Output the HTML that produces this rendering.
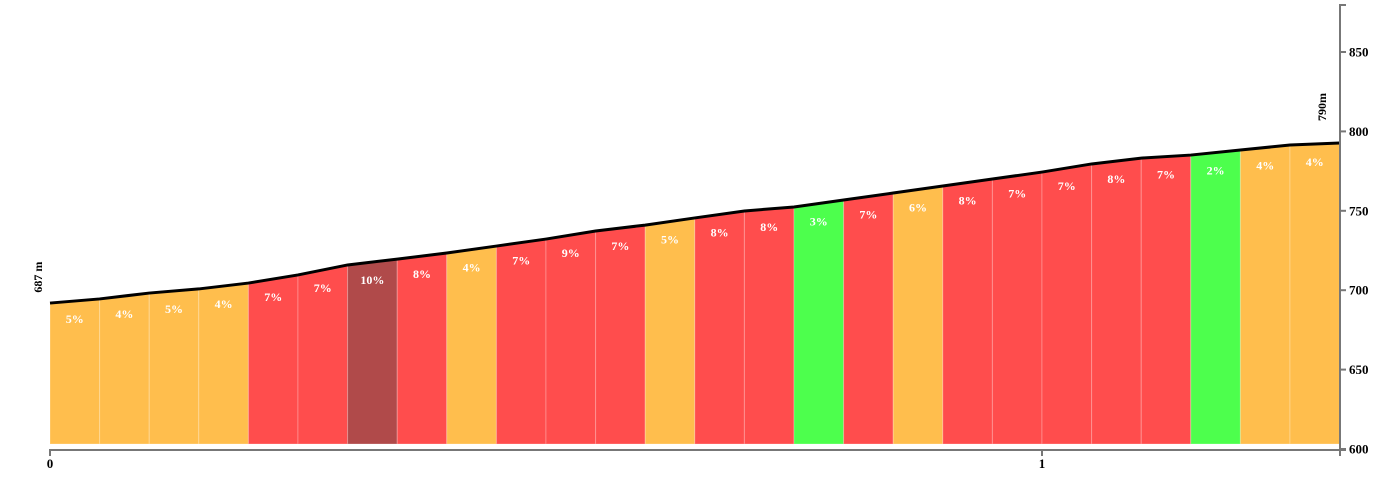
<!DOCTYPE html>
<html><head><meta charset="utf-8"><style>
body{margin:0;background:#fff}
svg{display:block;font-family:"Liberation Serif",serif;font-weight:bold}
</style></head><body>
<svg id="chart" width="1400" height="490" viewBox="0 0 1400 490"></svg>
<script>
const elevations=[691.9,694.5,698.2,700.8,704.5,709.6,715.9,719.6,723.4,727.8,732.2,737.3,741,745.5,749.9,752.4,756.8,761.2,765.6,770,774.4,779.5,783.2,785.1,788.3,791.4,792.7];
const grades=[5,4,5,4,7,7,10,8,4,7,9,7,5,8,8,3,7,6,8,7,7,8,7,2,4,4];
const yTicks=[600,650,700,750,800,850];
const xTicks=[0,1];
const segLen=0.05;
const startLabel="687 m", endLabel="790m";
const NS="http://www.w3.org/2000/svg";
const svg=document.getElementById('chart');
const xS=k=>50+k*992;
const yS=m=>449-(m-600)*1.588;
function mk(t,a,p){const e=document.createElementNS(NS,t);for(const k in a)e.setAttribute(k,a[k]);(p||svg).appendChild(e);return e;}
function col(g){if(g>=10)return'#b04a4a';if(g>=7)return'#ff4d4d';if(g>=4)return'#ffbe4d';return'#4dff4d';}
const gSeg=mk('g',{});


grades.forEach((g,i)=>{
 const x0=xS(i*segLen),x1=xS((i+1)*segLen),y0=yS(elevations[i]),y1=yS(elevations[i+1]);
 const p=mk('polygon',{points:`${x0},${y0} ${x1},${y1} ${x1},444 ${x0},444`,fill:col(g),stroke:'rgba(255,255,255,0.25)','stroke-width':1},gSeg);
 
 
 const t=mk('text',{x:(x0+x1)/2,y:(y0+y1)/2+22,'text-anchor':'middle',fill:'#fff','font-size':12},gSeg);
 t.textContent=g+'%';
 
 
});
const pts=elevations.map((e,i)=>xS(i*segLen)+','+yS(e)).join(' ');
const line=mk('polyline',{points:pts,fill:'none',stroke:'#000','stroke-width':3});


// x axis
const xa=mk('g',{});


mk('path',{d:'M50,456V450H1340V456',fill:'none',stroke:'#777','stroke-width':2},xa);
xTicks.forEach(k=>{mk('line',{x1:xS(k),x2:xS(k),y1:450,y2:456,stroke:'#777','stroke-width':2},xa);
 const t=mk('text',{x:xS(k),y:468,'text-anchor':'middle','font-size':13,fill:'#000'},xa);t.textContent=k;
 
 });
// y axis
const ya=mk('g',{});


mk('path',{d:'M1346,5H1340V450H1346',fill:'none',stroke:'#777','stroke-width':2},ya);
yTicks.forEach(v=>{const y=yS(v);mk('line',{x1:1340,x2:1346,y1:y,y2:y,stroke:'#777','stroke-width':2},ya);
 const t=mk('text',{x:1349,y:y+4.5,'font-size':13,fill:'#000'},ya);t.textContent=v;
 
 });
const s=mk('text',{x:0,y:0,transform:`translate(42,${yS(elevations[0])-26}) rotate(-90)`,'font-size':12,'text-anchor':'middle'});
s.textContent=startLabel;


const e=mk('text',{x:0,y:0,transform:`translate(1326,${yS(elevations[elevations.length-1])-36}) rotate(-90)`,'font-size':12,'text-anchor':'middle'});
e.textContent=endLabel;


</script>
</body></html>
